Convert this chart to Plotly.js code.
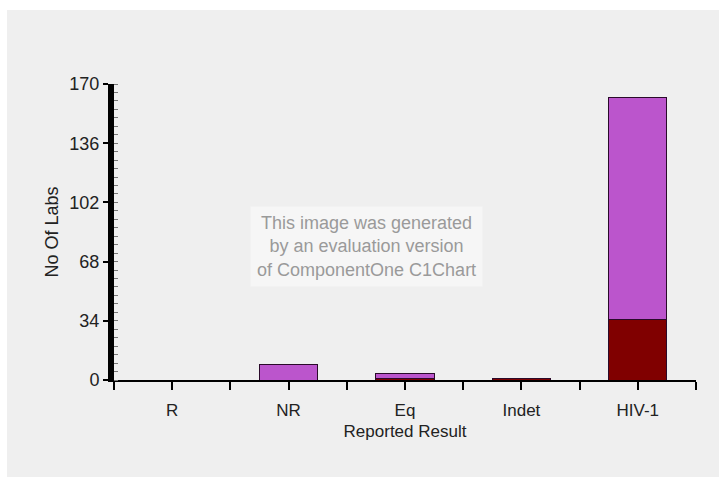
<!DOCTYPE html>
<html>
<head>
<meta charset="utf-8">
<script src="https://cdn.plot.ly/plotly-3.0.1.min.js"></script>
<style>
html,body{margin:0;padding:0;background:#ffffff;width:719px;height:477px;overflow:hidden;}
#chart{position:absolute;left:7px;top:10px;width:712px;height:467px;}
</style>
</head>
<body>
<div id="chart"></div>
<script>
// Data
const categories = ["R", "NR", "Eq", "Indet", "HIV-1"];
const darkSeries = [0, 0, 1, 1, 35];      // dark red (bottom)
const purpleSeries = [0, 9, 3, 0, 127];   // purple (stacked on top)
const yTicks = [0, 34, 68, 102, 136, 170];

const xIdx = categories.map((c, i) => i);

const traces = [
  {
    type: 'bar', name: 'Series 1', x: xIdx, y: darkSeries,
    marker: {color: '#800000', line: {color: '#2a0a2a', width: 1}},
    hoverinfo: 'skip'
  },
  {
    type: 'bar', name: 'Series 2', x: xIdx, y: purpleSeries,
    marker: {color: '#bb55cc', line: {color: '#2a0a2a', width: 1}},
    hoverinfo: 'skip'
  }
];

const font = 'Liberation Sans, Arial, sans-serif';

const layout = {
  width: 712, height: 467,
  margin: {l: 107, r: 23, t: 74, b: 97},
  paper_bgcolor: '#efefef',
  plot_bgcolor: '#efefef',
  barmode: 'stack',
  bargap: 0.5,
  showlegend: false,
  font: {family: font, size: 17, color: '#222222'},
  xaxis: {
    range: [-0.5, 4.5],
    tickmode: 'array', tickvals: xIdx, ticktext: categories,
    showgrid: false, zeroline: false,
    showline: true, linecolor: '#000000', linewidth: 2,
    ticks: 'outside', ticklen: 8, tickwidth: 2, tickcolor: '#000000',
    ticklabelstandoff: 6,
    minor: {tickmode: 'linear', tick0: 0.5, dtick: 1, ticks: 'outside', ticklen: 8, tickwidth: 2, tickcolor: '#000000', showgrid: false},
    tickfont: {family: font, size: 17, color: '#222222'},
    title: {text: 'Reported Result', font: {family: font, size: 17, color: '#222222'}, standoff: 6},
    fixedrange: true
  },
  yaxis: {
    range: [0, 170],
    tickmode: 'array', tickvals: yTicks,
    showgrid: false, zeroline: false,
    showline: true, linecolor: '#000000', linewidth: 6,
    ticks: 'outside', ticklen: 5, tickwidth: 2, tickcolor: '#000000',
    minor: {tickmode: 'linear', tick0: 0, dtick: 34 / 7, ticks: 'inside', ticklen: 4, tickwidth: 1, tickcolor: '#777777', showgrid: false},
    tickfont: {family: font, size: 18, color: '#222222'},
    title: {text: 'No Of Labs', font: {family: font, size: 18, color: '#222222'}, standoff: 8},
    fixedrange: true
  },
  annotations: [{
    xref: 'paper', yref: 'paper', x: 0.434, y: 0.452,
    text: 'This image was generated<br>by an evaluation version<br>of ComponentOne C1Chart',
    showarrow: false, align: 'center',
    font: {family: font, size: 18, color: '#9a9a9a'},
    bgcolor: '#f6f6f6', borderpad: 6
  }]
};

Plotly.newPlot('chart', traces, layout, {displayModeBar: false, staticPlot: true});
</script>
</body>
</html>
